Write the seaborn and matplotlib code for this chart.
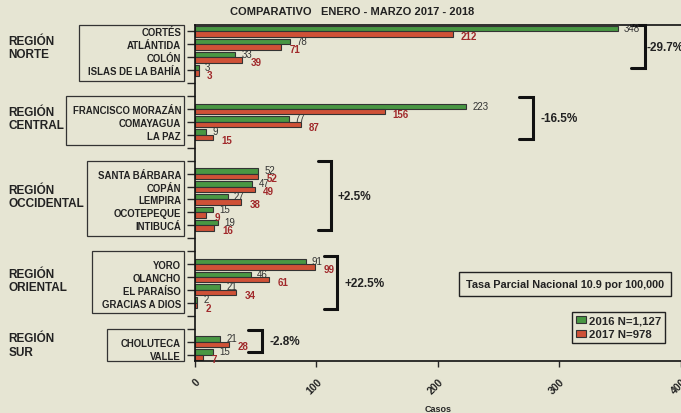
import matplotlib.pyplot as plt
import pandas as pd
import seaborn as sns
from matplotlib.transforms import blended_transform_factory

# Datos por región (2016 / 2017)
regiones = ['NORTE', 'CENTRAL', 'OCCIDENTAL', 'ORIENTAL', 'SUR']
deptos = [
    ['CORTÉS', 'ATLÁNTIDA', 'COLÓN', 'ISLAS DE LA BAHÍA'],
    ['FRANCISCO MORAZÁN', 'COMAYAGUA', 'LA PAZ'],
    ['SANTA BÁRBARA', 'COPÁN', 'LEMPIRA', 'OCOTEPEQUE', 'INTIBUCÁ'],
    ['YORO', 'OLANCHO', 'EL PARAÍSO', 'GRACIAS A DIOS'],
    ['CHOLUTECA', 'VALLE'],
]
casos_2016 = [348, 78, 33, 3, 223, 77, 9, 52, 47, 27, 15, 19, 91, 46, 21, 2, 21, 15]
casos_2017 = [212, 71, 39, 3, 156, 87, 15, 52, 49, 38, 9, 16, 99, 61, 34, 2, 28, 7]
series = ['2016 N=1,127', '2017 N=978']
cambios = ['-29.7%', '-16.5%', '+2.5%', '+22.5%', '-2.8%']

fondo = '#E6E5D3'
verde = '#3DA535'
rojo = '#E8401E'

# orden con dos espacios vacíos entre regiones
orden = []
rangos = []
n_blank = 0
for i, grupo in enumerate(deptos):
    inicio = len(orden)
    orden += grupo
    rangos.append((inicio, len(orden) - 1))
    if i < len(deptos) - 1:
        for _ in range(2):
            n_blank += 1
            orden.append(' ' * n_blank)

todos = [d for g in deptos for d in g]
df = pd.DataFrame({
    'depto': todos * 2,
    'casos': casos_2016 + casos_2017,
    'serie': [series[0]] * len(todos) + [series[1]] * len(todos),
})

sns.set_style('ticks')
plt.rcParams['font.family'] = ['Liberation Sans', 'DejaVu Sans']

fig = plt.figure(figsize=(6.81, 4.14), dpi=100, facecolor=fondo)
ax = fig.add_axes([0.2863, 0.1256, 0.7137, 0.8116])
ax.set_facecolor(fondo)

sns.barplot(data=df, y='depto', x='casos', hue='serie', order=orden, orient='h',
            palette=[verde, rojo], edgecolor='#333333', linewidth=0.8, width=0.85, ax=ax)

ax.set_xlim(0, 400)
ax.set_ylim(len(orden) - 0.5, -0.5)
ax.set_xticks([0, 100, 200, 300, 400])
ax.set_xticklabels(['0', '100', '200', '300', '400'], rotation=45, ha='right',
                   rotation_mode='anchor', fontsize=7.5, fontweight='bold', color='#222222')
ax.tick_params(axis='x', length=4, width=1, pad=7)
ax.tick_params(axis='y', length=6, width=1, pad=4, labelsize=6.9)
for lab in ax.get_yticklabels():
    lab.set_fontweight('bold')
    lab.set_color('#222222')
ax.set_ylabel('')
ax.set_xlabel('Casos', fontsize=6.5, fontweight='bold', labelpad=6)
ax.spines['right'].set_visible(False)
for s in ['left', 'top', 'bottom']:
    ax.spines[s].set_linewidth(1.2)
    ax.spines[s].set_color('#111111')

# etiquetas de valores
for k, cont in enumerate(ax.containers):
    for rect in cont:
        w = rect.get_width()
        yc = rect.get_y() + rect.get_height() / 2
        if k == 0:
            ax.annotate(f'{int(w)}', (w, yc), xytext=(4.5, 0.5), textcoords='offset points',
                        ha='left', va='center', fontsize=7, color='#333333')
        else:
            ax.annotate(f'{int(w)}', (w, yc), xytext=(6, -1.5), textcoords='offset points',
                        ha='left', va='center', fontsize=7, color='#A0282A', fontweight='bold')

# leyenda
handles, labels = ax.get_legend_handles_labels()
leg = ax.legend(handles, labels, loc='lower right', bbox_to_anchor=(0.967, 0.054),
                prop={'weight': 'bold', 'size': 8.2}, frameon=True, fancybox=False,
                handlelength=0.9, handleheight=0.55, handletextpad=0.3, borderpad=0.3,
                labelspacing=0.35, borderaxespad=0)
leg.get_frame().set_edgecolor('#222222')
leg.get_frame().set_facecolor(fondo)
leg.get_frame().set_linewidth(1)
leg.get_frame().set_alpha(1)

# cajas de departamentos y nombres de región
bt = blended_transform_factory(fig.transFigure, ax.transData)
caja_izq = [79 / 681, 66 / 681, 87 / 681, 92 / 681, 107 / 681]
caja_der = 184 / 681
for i, (a, b) in enumerate(rangos):
    top = max(a - 1.0, -0.5)
    bot = min(b + 0.8, len(orden) - 0.5)
    ax.add_patch(plt.Rectangle((caja_izq[i], top), caja_der - caja_izq[i], bot - top,
                               transform=bt, fill=False, edgecolor='#333333', lw=0.9,
                               clip_on=False))
    fig.text(0.012, (a + b) / 2 - 0.25, f'REGIÓN\n{regiones[i]}', transform=bt,
             ha='left', va='center', fontsize=8.5, fontweight='bold', color='#222222',
             linespacing=1.15)

# corchetes de variación
corchete_x = [370, 278, 112, 117, 55]
corchete_y = [(-0.5, 2.85), (5.1, 8.3), (10.0, 15.4), (17.4, 21.5), (23.1, 24.8)]
texto_x = [372, 284, 117, 123, 61]
for i in range(len(regiones)):
    x = corchete_x[i]
    y0, y1 = corchete_y[i]
    ax.plot([x - 11, x, x, x - 11], [y0, y0, y1, y1], color='#111111', lw=2.2,
            clip_on=False, solid_joinstyle='miter')
    ax.text(texto_x[i], (y0 + y1) / 2, cambios[i], ha='left', va='center',
            fontsize=8.5, fontweight='bold', color='#222222')

# tasa nacional
ax.text(0.761, 0.228, 'Tasa Parcial Nacional 10.9 por 100,000', transform=ax.transAxes,
        ha='center', va='center', fontsize=7.8, fontweight='bold', color='#222222',
        bbox=dict(boxstyle='square,pad=0.65', facecolor=fondo, edgecolor='#222222', lw=1))

fig.text(0.517, 0.971, 'COMPARATIVO   ENERO - MARZO 2017 - 2018', ha='center', va='center',
         fontsize=8, fontweight='bold', color='#222222')

fig.savefig('out.png', dpi=100, facecolor=fondo)
